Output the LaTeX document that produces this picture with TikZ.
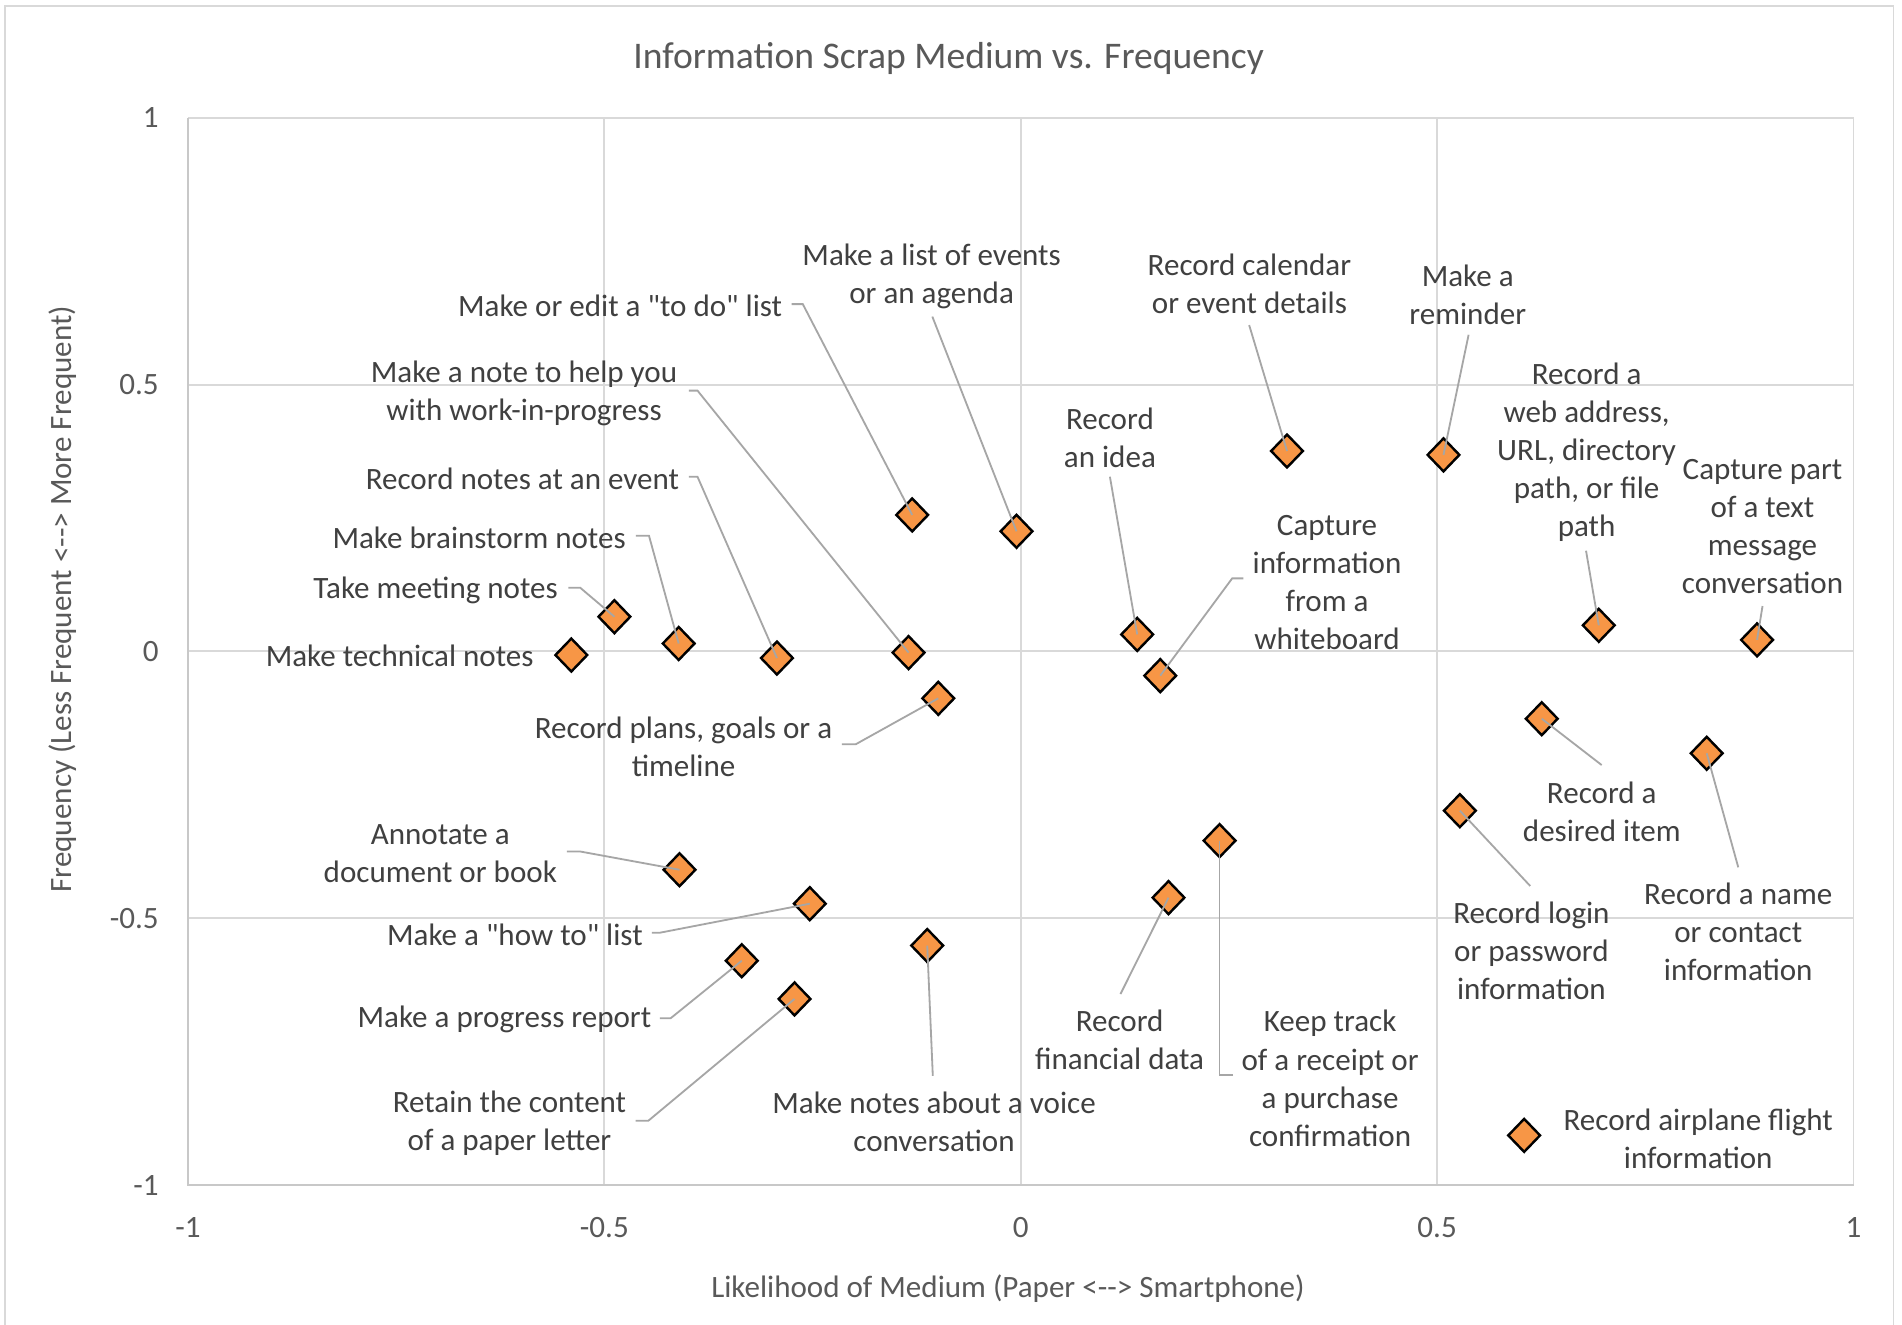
\documentclass[tikz,border=0pt]{standalone}
\usepackage{fontspec}
\setmainfont{Carlito}[Ligatures=TeXOff]
\usetikzlibrary{shapes.geometric}
\definecolor{gridgray}{HTML}{D9D9D9}
\definecolor{axisgray}{HTML}{C8C8C8}
\definecolor{leadergray}{HTML}{A6A6A6}
\definecolor{labeltext}{HTML}{404040}
\definecolor{ticktext}{HTML}{595959}
\definecolor{markorange}{HTML}{F79646}
\begin{document}
\begin{tikzpicture}[x=1pt,y=-1pt,
  gridline/.style={draw=gridgray,line width=1.6pt},
  lbl/.style={text=labeltext,font=\fontsize{25.6}{31.4}\selectfont,align=center,inner sep=0pt},
  ticklbl/.style={text=ticktext,font=\fontsize{25.6}{31.4}\selectfont,inner sep=0pt},
  datapt/.style={diamond,draw=black,fill=markorange,line width=2pt,
    minimum width=27pt,minimum height=28pt,inner sep=0pt},
  leader/.style={draw=leadergray,line width=1.5pt}
]
\useasboundingbox (0,0) rectangle (1568,1092);
\fill[white] (0,0) rectangle (1568,1092);

% chart frame
\draw[gridgray,line width=1.5pt] (4,1100) -- (4,5) -- (1561,5) -- (1561,1100);

% title
\node[text=ticktext,font=\fontsize{31}{37}\selectfont,inner sep=0pt] (title) at (782,48)
  {Information Scrap Medium vs. Frequency};

% grid
\foreach \gx in {498.25,841.5,1184.75,1528} \draw[gridline] (\gx,97) -- (\gx,977);
\foreach \gy in {97,317,537,757} \draw[gridline] (155,\gy) -- (1528,\gy);
\draw[draw=axisgray,line width=1.6pt] (155,97) -- (155,977) -- (1528,977);

% tick labels
\foreach \v/\gy in {1/97,0.5/317,0/537,-0.5/757,-1/977}
  \node[ticklbl,anchor=east] at (131,\gy) {\v};
\foreach \v/\gx in {-1/155,-0.5/498.25,0/841.5,0.5/1184.75,1/1528}
  \node[ticklbl] at (\gx,1012) {\v};

% axis titles
\node[ticklbl] (xtitle) at (831,1062) {Likelihood of Medium (Paper <--> Smartphone)};
\node[ticklbl,rotate=90] (ytitle) at (52,494) {Frequency (Less Frequent <--> More Frequent)};

% data points
\node[datapt] (d1)  at (471,540) {};
\node[datapt] (d2)  at (506.5,508.4) {};
\node[datapt] (d3)  at (559.5,530.5) {};
\node[datapt] (d4)  at (640.5,542.5) {};
\node[datapt] (d5)  at (749,538) {};
\node[datapt] (d6)  at (752,424.5) {};
\node[datapt] (d7)  at (838,438) {};
\node[datapt] (d8)  at (773.5,575.7) {};
\node[datapt] (d9)  at (937.5,523) {};
\node[datapt] (d10) at (956.5,557) {};
\node[datapt] (d11) at (1061,371.8) {};
\node[datapt] (d12) at (1190,375) {};
\node[datapt] (d13) at (1318,515.5) {};
\node[datapt] (d14) at (1448.5,527.5) {};
\node[datapt] (d15) at (1271,592.5) {};
\node[datapt] (d16) at (1407,621) {};
\node[datapt] (d17) at (1203.5,668.3) {};
\node[datapt] (d18) at (1005.4,693) {};
\node[datapt] (d19) at (963.3,740) {};
\node[datapt] (d20) at (560.2,717) {};
\node[datapt] (d21) at (667.6,745) {};
\node[datapt] (d22) at (611.5,792) {};
\node[datapt] (d23) at (655,823.5) {};
\node[datapt] (d24) at (764.4,779.5) {};
\node[datapt] (d25) at (1256.5,936) {};

% labels
\node[lbl,anchor=east] (t1) at (440,541) {Make technical notes};
\node[lbl,anchor=east] (t2) at (460,487) {Take meeting notes};
\node[lbl,anchor=east] (t3) at (516,443) {Make brainstorm notes};
\node[lbl,anchor=east] (t4) at (560,395) {Record notes at an event};
\node[lbl] (t5) at (432,324) {Make a note to help you\\with work-in-progress};
\node[lbl,anchor=east] (t6) at (645,252) {Make or edit a "to do" list};
\node[lbl] (t7) at (768,228) {Make a list of events\\or an agenda};
\node[lbl] (t8) at (563.5,616) {Record plans, goals or a\\timeline};
\node[lbl] (t9) at (915,361) {Record\\an idea};
\node[lbl] (t10) at (1094,480) {Capture\\information\\from a\\whiteboard};
\node[lbl] (t11) at (1030,234) {Record calendar\\or event details};
\node[lbl] (t12) at (1210,243) {Make a\\reminder};
\node[lbl] (t13) at (1308,373) {Record a\\web address,\\URL, directory\\path, or file\\path};
\node[lbl] (t14) at (1453,434) {Capture part\\of a text\\message\\conversation};
\node[lbl] (t15) at (1320.5,669) {Record a\\desired item};
\node[lbl] (t16) at (1433,768) {Record a name\\or contact\\information};
\node[lbl] (t17) at (1262.5,784) {Record login\\or password\\information};
\node[lbl] (t18) at (1096.5,889) {Keep track\\of a receipt or\\a purchase\\confirmation};
\node[lbl] (t19) at (923,857) {Record\\financial data};
\node[lbl] (t20) at (363,704) {Annotate a\\document or book};
\node[lbl,anchor=east] (t21) at (530,771) {Make a "how to" list};
\node[lbl,anchor=east] (t22) at (537,840) {Make a progress report};
\node[lbl] (t23) at (420,926) {Retain the content\\of a paper letter};
\node[lbl] (t24) at (770,925) {Make notes about a voice\\conversation};
\node[lbl] (t25) at (1400,939) {Record airplane flight\\information};

% leader line end points beside the labels
\coordinate (c2)  at (468.6,484.5);
\coordinate (c3)  at (524.3,441.6);
\coordinate (c4)  at (567.8,393);
\coordinate (c5)  at (567.8,322);
\coordinate (c6)  at (652.5,250.7);
\coordinate (c7)  at (768.6,261);
\coordinate (c8)  at (694,613.6);
\coordinate (c9)  at (915,393);
\coordinate (c10) at (1025,476.8);
\coordinate (c11) at (1029.8,268);
\coordinate (c12) at (1210.7,276);
\coordinate (c13) at (1307.5,454);
\coordinate (c14) at (1453,499.6);
\coordinate (c15) at (1320.4,630.7);
\coordinate (c16) at (1433,715);
\coordinate (c17) at (1261.5,730.4);
\coordinate (c18) at (1016.5,886.5);
\coordinate (c19) at (923.7,819.5);
\coordinate (c20) at (467.4,702);
\coordinate (c21) at (537.3,769);
\coordinate (c22) at (543.9,839.5);
\coordinate (c23) at (524,924);
\coordinate (c24) at (769,887);

% leader lines
\draw[leader] (c2) -- ++(9.7,0) -- (d2.center);
\draw[leader] (c3) -- ++(10.7,0) -- (d3.center);
\draw[leader] (c4) -- ++(7.2,0) -- (d4.center);
\draw[leader] (c5) -- ++(7.2,0) -- (d5.center);
\draw[leader] (c6) -- ++(9.3,0) -- (d6.center);
\draw[leader] (c7) -- (d7.center);
\draw[leader] (c8) -- ++(11.4,0) -- (d8.center);
\draw[leader] (c9) -- (d9.center);
\draw[leader] (c10) -- ++(-9.2,0) -- (d10.center);
\draw[leader] (c11) -- (d11.center);
\draw[leader] (c12) -- (d12.center);
\draw[leader] (c13) -- (d13.center);
\draw[leader] (c14) -- (d14.center);
\draw[leader] (c15) -- (d15.center);
\draw[leader] (c16) -- (d16.center);
\draw[leader] (c17) -- (d17.center);
\draw[leader] (c18) -- (d18.center |- c18) -- (d18.center);
\draw[leader] (c19) -- (d19.center);
\draw[leader] (c20) -- ++(11.1,0) -- (d20.center);
\draw[leader] (c21) -- ++(6.3,0) -- (d21.center);
\draw[leader] (c22) -- ++(8.9,0) -- (d22.center);
\draw[leader] (c23) -- ++(10.4,0) -- (d23.center);
\draw[leader] (c24) -- (d24.center);
\end{tikzpicture}
\end{document}
